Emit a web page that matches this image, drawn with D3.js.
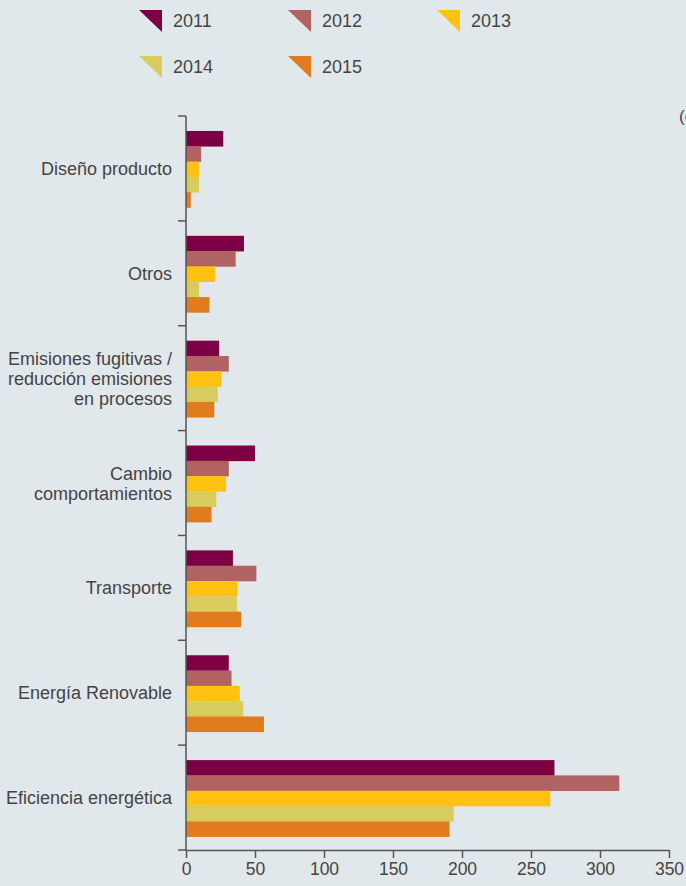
<!DOCTYPE html>
<html><head><meta charset="utf-8">
<script src="https://cdn.jsdelivr.net/npm/d3@7"></script>
<style>
html,body{margin:0;padding:0;background:#e1e8eb;}
svg{display:block;font-family:"Liberation Sans","Helvetica Neue",Arial,sans-serif;}
</style></head>
<body>
<svg id="c" width="686" height="886"></svg>
<script>
const categories = [
  ["Diseño producto"],
  ["Otros"],
  ["Emisiones fugitivas /","reducción emisiones","en procesos"],
  ["Cambio","comportamientos"],
  ["Transporte"],
  ["Energía Renovable"],
  ["Eficiencia energética"]
];
const years = ["2011","2012","2013","2014","2015"];
const colors = ["#7c0043","#b16262","#ffc212","#d8cc5e","#e07b1e"];
const v2011 = [27, 42, 24, 50, 34, 31, 267];
const v2012 = [11, 36, 31, 31, 51, 33, 314];
const v2013 = [9.5, 21, 25.5, 29, 37, 39, 264];
const v2014 = [9.5, 9.5, 23, 22, 37, 41.5, 194];
const v2015 = [3.5, 17, 20.5, 18.5, 40, 56.5, 191];
const xTicks = [0,50,100,150,200,250,300,350];
const series = [v2011, v2012, v2013, v2014, v2015];

(function(){
const svg = d3.select("#c");
const mLeft = 186, mRight = 669, mTop = 116, mBottom = 850;
const x = d3.scaleLinear().domain([0,350]).range([mLeft,mRight]);
const keys = categories.map((c,i)=>i);
const y = d3.scaleBand().domain(keys).range([mTop,mBottom]).paddingInner(0.27).paddingOuter(0.135);
const ySub = d3.scaleBand().domain(years).range([0,y.bandwidth()]);
const textCol = "#444";

keys.forEach(ci=>{
  const g = svg.append("g").attr("transform",`translate(0,${y(ci)+0.8})`);
  g.selectAll("rect").data(years).join("rect")
    .attr("x", x(0))
    .attr("y", d=>ySub(d))
    .attr("height", ySub.bandwidth()+0.3)
    .attr("width", (d,i)=>x(series[i][ci])-x(0))
    .attr("fill",(d,i)=>colors[i]);
});

const step = (mBottom-mTop)/categories.length;
const bounds = d3.range(categories.length+1).map(i=>mTop+i*step);
svg.append("line").attr("x1",mLeft).attr("x2",mLeft).attr("y1",mTop).attr("y2",mBottom)
  .attr("stroke","#555").attr("stroke-width",1.5);
svg.selectAll(".yt").data(bounds).join("line")
  .attr("x1",mLeft-8).attr("x2",mLeft).attr("y1",d=>d).attr("y2",d=>d)
  .attr("stroke","#555").attr("stroke-width",1.5);

const xa = svg.append("g").attr("transform",`translate(0,${mBottom})`)
  .call(d3.axisBottom(x).tickValues(xTicks).tickSize(8).tickSizeOuter(0).tickPadding(5));
xa.select(".domain").attr("stroke","#555").attr("stroke-width",1.5);
xa.selectAll(".tick line").attr("stroke","#555").attr("stroke-width",1.5);
xa.selectAll("text").attr("font-size",17.5).attr("fill",textCol).attr("font-family","inherit");

keys.forEach(ci=>{
  const lines = categories[ci];
  const cy = y(ci)+y.bandwidth()/2;
  const lh = 20;
  const t = svg.append("text").attr("text-anchor","end").attr("font-size",18).attr("fill",textCol);
  lines.forEach((l,j)=>{
    t.append("tspan").attr("x",172).attr("y",cy + (j-(lines.length-1)/2)*lh + 6.5).text(l);
  });
});

const legPos = [[139,10],[288,10],[437,10],[139,56],[288,56]];
years.forEach((yr,i)=>{
  const [lx,ly] = legPos[i];
  svg.append("path").attr("d",`M${lx},${ly}L${lx+23},${ly}L${lx+23},${ly+22}Z`).attr("fill",colors[i]);
  svg.append("text").attr("x",lx+34).attr("y",ly+17).attr("font-size",18).attr("fill",textCol).text(yr);
});

svg.append("text").attr("x",679).attr("y",122).attr("font-size",17).attr("fill",textCol).text("(en miles de tCO2e)");
})();
</script>
</body></html>
